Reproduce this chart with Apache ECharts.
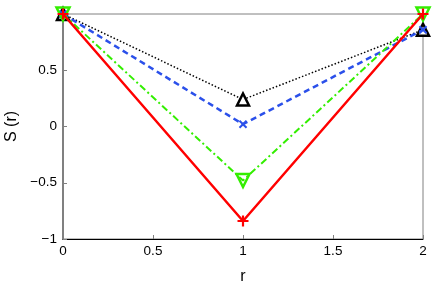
<!DOCTYPE html>
<html><head><meta charset="utf-8">
<script src="https://cdn.jsdelivr.net/npm/echarts@6/dist/echarts.min.js"></script>
<style>html,body{margin:0;padding:0;background:#fff}#c{width:436px;height:285px}</style>
</head><body><div id="c"></div>
<script>
const rValues = [0, 1, 2];
const seriesBlack = [1, 0.24, 0.86];
const seriesBlue = [1, 0.02, 0.86];
const seriesGreen = [1, -0.48, 1];
const seriesRed = [1, -0.84, 1];
const xTicks = [0, 0.5, 1, 1.5, 2];
const yTicks = [-1, -0.5, 0, 0.5];

const plusPath = 'path://M4,0H6V4H10V6H6V10H4V6H0V4H4Z';
function pts(arr){ return rValues.map((x,i)=>[x,arr[i]]); }
const font = 'Liberation Sans, Arial, sans-serif';
const chart = echarts.init(document.getElementById('c'), null, {renderer:'canvas'});
chart.setOption({
  animation:false,
  grid:{left:63,right:13,top:14,bottom:46,show:true,borderColor:'#808080',borderWidth:1,outerBoundsMode:'none',containLabel:false},
  xAxis:{type:'value',min:0,max:2,interval:0.5,
    name:'r',nameLocation:'middle',nameGap:30,nameTextStyle:{fontFamily:font,fontSize:16,color:'#000'},
    axisLine:{show:true,onZero:false,lineStyle:{color:'#000',width:1}},
    axisTick:{show:true,inside:true,length:4,lineStyle:{color:'#808080'}},
    splitLine:{show:false},
    axisLabel:{fontFamily:font,fontSize:13.5,color:'#000',margin:5,formatter:v=>xTicks.includes(v)?String(v):''}},
  yAxis:{type:'value',min:-1,max:1,interval:0.5,
    name:'S (r)',nameLocation:'middle',nameGap:40,nameTextStyle:{fontFamily:font,fontSize:16,color:'#000'},
    axisLine:{show:true,onZero:false,lineStyle:{color:'#808080',width:2}},
    axisTick:{show:true,inside:true,length:4,lineStyle:{color:'#808080'}},
    splitLine:{show:false},
    axisLabel:{fontFamily:font,fontSize:13.5,color:'#000',margin:6,formatter:v=>yTicks.includes(v)?String(v).replace('-','\u2212'):''}},
  series:[
    {type:'line',data:pts(seriesBlack),z:2,symbol:'triangle',symbolSize:12,
      lineStyle:{color:'#000',width:1.5,type:[1.5,2]},
      itemStyle:{color:'#fff',borderColor:'#000',borderWidth:2.5}},
    {type:'line',data:pts(seriesBlue),z:3,symbol:plusPath,symbolSize:10,symbolRotate:45,
      lineStyle:{color:'#2b50ea',width:2.5,type:[6,4]},
      itemStyle:{color:'#2b50ea',borderWidth:0}},
    {type:'line',data:pts(seriesGreen),z:4,symbol:'triangle',symbolRotate:180,symbolSize:13,
      lineStyle:{color:'#33ee00',width:2,type:[7,3,2,3]},
      itemStyle:{color:'transparent',borderColor:'#33ee00',borderWidth:2.5}},
    {type:'line',data:pts(seriesRed),z:5,symbol:plusPath,symbolSize:11,
      lineStyle:{color:'#ff0000',width:2.5},
      itemStyle:{color:'#ff0000',borderWidth:0}}
  ]
});
</script></body></html>
